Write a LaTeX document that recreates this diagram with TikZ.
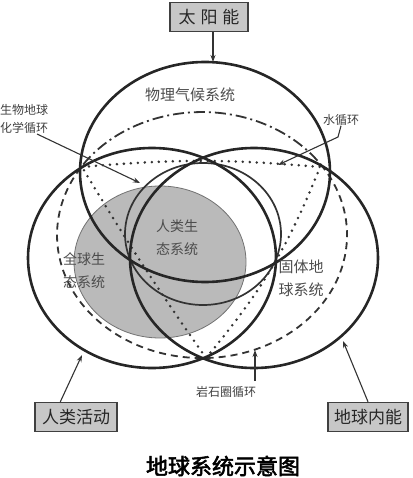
\documentclass[tikz,border=0pt]{standalone}
\usepackage{fontspec}
\newfontfamily\cjk{Noto Sans CJK SC}
\newfontfamily\cjkb[FakeBold=2.5]{Noto Sans CJK SC}
\usetikzlibrary{arrows.meta}
\begin{document}
\begin{tikzpicture}[x=1pt,y=-1pt,
  heavy/.style={draw=black!85, line width=2.6pt},
  thinell/.style={draw=black!80, line width=1.7pt},
  dotline/.style={draw=black!80, line width=2.8pt, line cap=round, dash pattern=on 0pt off 7pt},
  dashline/.style={draw=black!80, line width=1.8pt, dash pattern=on 7pt off 5pt},
  dashdotline/.style={draw=black!80, line width=1.8pt, dash pattern=on 11pt off 4pt on 2pt off 4pt},
  lbl/.style={font=\cjk\fontsize{14pt}{23pt}\selectfont, text=black!70, align=center, inner sep=0pt},
  small/.style={font=\cjk\fontsize{12pt}{18pt}\selectfont, text=black!75, align=left, inner sep=0pt},
  boxnode/.style={draw=black!75, line width=1.4pt, fill=black!22, text=black!85,
     font=\cjk\fontsize{17pt}{20pt}\selectfont, inner sep=0pt, minimum height=29pt},
  ptr/.style={draw=black!80, line width=1.1pt, -{Stealth[length=7pt,width=5pt]}}]
\useasboundingbox (0,0) rectangle (412,478);
% global ecosystem (gray)
\fill[black!27] (160,262) ellipse [x radius=86pt, y radius=76pt];
\draw[black!55, line width=0.8pt] (160,262) ellipse [x radius=86pt, y radius=76pt];
% big dashed / dash-dot ellipse
\draw[dashdotline] (83.2,164.5) arc[start angle=145, end angle=35, x radius=145pt, y radius=123pt];
\draw[dashline] (320.8,164.5) arc[start angle=35, end angle=-215, x radius=145pt, y radius=123pt];
% dotted curved triangle
\coordinate (tl) at (82,167);
\coordinate (tr) at (320,167);
\coordinate (bt) at (206,358);
\draw[dotline] (tl) to[bend left=5] (tr) to[bend left=9] (bt) to[bend left=2] (tl);
% human ecosystem (thin ellipse)
\draw[thinell] (203,234) ellipse [x radius=78pt, y radius=71pt];
% three heavy ellipses
\draw[heavy] (205,172) ellipse [x radius=125pt, y radius=110pt];
\draw[heavy] (152,258) ellipse [x radius=124pt, y radius=110pt];
\draw[heavy] (254,258) ellipse [x radius=124pt, y radius=110pt];
% texts
\node[lbl, font=\cjk\fontsize{15pt}{20pt}\selectfont] (phys) at (190,95) {物理气候系统};
\node[lbl] (human) at (177,238) {人类生\\态系统};
\node[lbl] (glob) at (84,271) {全球生\\态系统};
\node[lbl, font=\cjk\fontsize{15pt}{23pt}\selectfont] (solid) at (301,278) {固体地\\球系统};
% boxes
\node[boxnode, minimum width=78pt, font=\cjk\fontsize{17pt}{20pt}\selectfont] (sun) at (209,17) {太\hspace{5pt}阳\hspace{5pt}能};
\node[boxnode, minimum width=82pt] (act) at (76,417) {人类活动};
\node[boxnode, minimum width=80pt] (inner) at (368,417) {地球内能};
% small labels
\node[small, anchor=west] (bio) at (0,119) {生物地球\\化学循环};
\node[small] (water) at (341,120) {水循环};
\node[small] (rock) at (226,392) {岩石圈循环};
% pointer targets
\coordinate (sunT) at (213,62);
\coordinate (actT) at (82,355);
\coordinate (innT) at (343,341);
\coordinate (bioS) at (37,134);
\coordinate (bioT) at (140,183);
\coordinate (watK) at (338,137);
\coordinate (watT) at (278,165);
\coordinate (rockS) at (255,381);
\coordinate (rockT) at (255,350);
% connectors
\draw[ptr] (sun.south -| sunT) -- (sunT);
\draw[ptr] (act.north west) ++(26pt,0) -- (actT);
\draw[ptr] (inner.north) -- (innT);
\draw[ptr] (bioS) -- (bioT);
\draw[ptr] (water.south) -- (watK) -- (watT);
\draw[ptr] (rockS) -- (rockT);
% title
\node[font=\cjkb\fontsize{22pt}{24pt}\selectfont, inner sep=0pt] (title) at (223,466) {地球系统示意图};
\end{tikzpicture}
\end{document}
